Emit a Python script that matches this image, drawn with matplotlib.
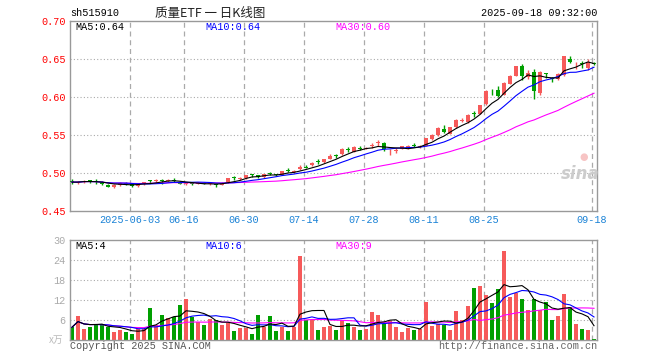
import numpy as np
import pandas as pd
import matplotlib
matplotlib.use("Agg")
import matplotlib.pyplot as plt

plt.rcParams["font.family"] = ["Liberation Mono", "Noto Sans CJK SC", "DejaVu Sans"]

# daily candles, 2025-05-19 .. 2025-09-18 (88 trading days)
opens = [0.489, 0.487, 0.488, 0.490, 0.490, 0.488, 0.484, 0.482, 0.484, 0.487,
         0.485, 0.483, 0.485, 0.490, 0.489, 0.491, 0.489, 0.491, 0.488, 0.485,
         0.486, 0.485, 0.487, 0.485, 0.486, 0.484, 0.488, 0.494, 0.492, 0.493,
         0.498, 0.497, 0.495, 0.500, 0.498, 0.498, 0.504, 0.501, 0.505, 0.508,
         0.510, 0.515, 0.514, 0.519, 0.523, 0.5246, 0.531, 0.528, 0.533, 0.532,
         0.535, 0.539, 0.540, 0.527, 0.529, 0.532, 0.533, 0.537, 0.534, 0.536,
         0.545, 0.550, 0.5583, 0.5518, 0.5605, 0.569, 0.567, 0.579, 0.578, 0.5908,
         0.607, 0.6096, 0.603, 0.6175, 0.628, 0.6412, 0.6263, 0.633, 0.605, 0.631,
         0.625, 0.6237, 0.6294, 0.650, 0.6415, 0.6435, 0.638, 0.6445]
closes = [0.488, 0.488, 0.490, 0.489, 0.488, 0.485, 0.482, 0.484, 0.487, 0.486,
          0.483, 0.484, 0.488, 0.489, 0.491, 0.489, 0.490, 0.490, 0.486, 0.486,
          0.485, 0.486, 0.486, 0.486, 0.484, 0.487, 0.493, 0.493, 0.494, 0.497,
          0.497, 0.495, 0.499, 0.499, 0.497, 0.502, 0.503, 0.503, 0.508, 0.507,
          0.513, 0.514, 0.518, 0.523, 0.522, 0.5316, 0.5305, 0.534, 0.532, 0.5325,
          0.536, 0.540, 0.531, 0.528, 0.530, 0.535, 0.536, 0.536, 0.535, 0.5456,
          0.5496, 0.5588, 0.554, 0.560, 0.570, 0.570, 0.5767, 0.578, 0.590, 0.6083,
          0.606, 0.6018, 0.6184, 0.628, 0.6404, 0.6272, 0.6316, 0.6075, 0.6325, 0.6305,
          0.624, 0.6307, 0.6544, 0.6456, 0.642, 0.643, 0.6456, 0.644]
highs = [0.492, 0.490, 0.491, 0.491, 0.492, 0.489, 0.485, 0.485, 0.488, 0.488,
         0.486, 0.485, 0.488, 0.491, 0.492, 0.492, 0.492, 0.493, 0.489, 0.487,
         0.487, 0.488, 0.488, 0.487, 0.486, 0.488, 0.494, 0.496, 0.495, 0.497,
         0.499, 0.498, 0.499, 0.501, 0.499, 0.502, 0.506, 0.504, 0.511, 0.510,
         0.514, 0.518, 0.518, 0.525, 0.525, 0.533, 0.534, 0.535, 0.535, 0.534,
         0.539, 0.544, 0.541, 0.531, 0.533, 0.535, 0.537, 0.539, 0.537, 0.546,
         0.551, 0.560, 0.563, 0.561, 0.571, 0.573, 0.577, 0.582, 0.590, 0.609,
         0.610, 0.614, 0.620, 0.629, 0.641, 0.644, 0.635, 0.637, 0.634, 0.632,
         0.626, 0.632, 0.6545, 0.6544, 0.646, 0.647, 0.650, 0.646]
lows = [0.486, 0.485, 0.487, 0.487, 0.486, 0.484, 0.481, 0.480, 0.483, 0.484,
        0.481, 0.482, 0.484, 0.487, 0.488, 0.486, 0.488, 0.488, 0.485, 0.484,
        0.484, 0.485, 0.485, 0.484, 0.482, 0.484, 0.487, 0.491, 0.491, 0.492,
        0.495, 0.494, 0.494, 0.497, 0.496, 0.497, 0.501, 0.500, 0.504, 0.506,
        0.509, 0.512, 0.513, 0.518, 0.520, 0.524, 0.528, 0.527, 0.530, 0.531,
        0.533, 0.535, 0.529, 0.524, 0.526, 0.531, 0.532, 0.534, 0.533, 0.535,
        0.544, 0.549, 0.553, 0.551, 0.559, 0.567, 0.566, 0.574, 0.577, 0.590,
        0.603, 0.600, 0.602, 0.617, 0.627, 0.622, 0.624, 0.597, 0.603, 0.625,
        0.620, 0.622, 0.628, 0.645, 0.637, 0.638, 0.636, 0.642]
volumes = [3.9, 7.3, 3.5, 4.1, 4.8, 4.5, 4.1, 2.6, 3.2, 2.5,
           1.9, 3.4, 3.5, 9.7, 4.6, 7.6, 6.6, 6.9, 10.6, 12.4,
           6.9, 5.5, 4.6, 6.4, 6.1, 4.6, 5.3, 2.8, 3.7, 3.7,
           1.9, 7.6, 3.9, 7.3, 2.8, 4.1, 2.8, 4.1, 25.2, 6.1,
           6.1, 3.1, 4.1, 4.3, 3.1, 6.1, 5.1, 4.0, 3.1, 3.4,
           8.6, 7.6, 4.8, 5.7, 4.0, 2.6, 3.8, 3.1, 3.4, 11.6,
           4.4, 4.8, 4.6, 3.2, 8.8, 6.1, 10.3, 15.7, 16.3, 13.6,
           11.3, 15.4, 26.7, 13.1, 14.2, 12.4, 9.1, 12.4, 9.1, 11.6,
           6.1, 7.3, 13.9, 10.0, 4.9, 3.4, 3.1, 0.4]

tick_index = [10, 19, 29, 39, 49, 59, 69, 87]
tick_labels = ["2025-06-03", "06-16", "06-30", "07-14", "07-28", "08-11", "08-25", "09-18"]

RED = "#f65a5a"
GREEN = "#009f00"
GRID = "#aaaaaa"
EDGE = "#999999"
BLUE_TXT = "#1a82d6"

o = np.array(opens)
c = np.array(closes)
h = np.array(highs)
l = np.array(lows)
v = np.array(volumes)
x = np.arange(len(c))
up = c >= o
colors = np.where(up, RED, GREEN)

price_ma = {n: pd.Series(c).rolling(n, min_periods=1).mean() for n in (5, 10, 30)}
vol_ma = {n: pd.Series(v).rolling(n, min_periods=1).mean() for n in (5, 10, 30)}
ma_colors = {5: "black", 10: "#0000ff", 30: "#ff00ff"}

W, H = 660, 360
fig = plt.figure(figsize=(6.6, 3.6), dpi=100)
ax = fig.add_axes([70 / W, 1 - 211 / H, 527 / W, 190 / H])
axv = fig.add_axes([70 / W, 1 - 340.3 / H, 527 / W, 100.3 / H])

grid_x = np.array(tick_index) - 0.33
for a in (ax, axv):
    a.set_xlim(-0.33, 87.5)
    for gx in grid_x:
        a.axvline(gx, color=GRID, linestyle=(0, (4, 3)), linewidth=0.9, zorder=0)
    for s in a.spines.values():
        s.set_color(EDGE)
        s.set_linewidth(1.0)
    a.tick_params(length=0, pad=3)
    a.set_xticks([])

# price panel
ax.set_ylim(0.45, 0.70)
for gy in (0.65, 0.60, 0.55, 0.50):
    ax.axhline(gy, color=GRID, linestyle=(0, (1, 2)), linewidth=0.8, zorder=0)
ax.vlines(x, l, h, colors=colors, linewidth=1.0, zorder=2)
body = np.maximum(np.abs(c - o), 0.0012)
ax.bar(x, body, bottom=np.minimum(o, c), width=0.7, color=colors, linewidth=0, zorder=3)
for n in (30, 10, 5):
    ax.plot(x, price_ma[n], color=ma_colors[n], linewidth=0.8, zorder=4)
ax.set_yticks([0.45, 0.50, 0.55, 0.60, 0.65, 0.70])
ax.set_yticklabels(["0.45", "0.50", "0.55", "0.60", "0.65", "0.70"], color="#ff0000", fontsize=7.3)
ax.set_xticks(grid_x)
ax.set_xticklabels(tick_labels, color=BLUE_TXT, fontsize=7.3)
ax.tick_params(axis="x", pad=3)

# volume panel
axv.set_ylim(0, 30)
for gy in (6, 12, 18, 24):
    axv.axhline(gy, color=GRID, linestyle=(0, (1, 2)), linewidth=0.8, zorder=0)
axv.bar(x, v, width=0.75, color=colors, linewidth=0, zorder=2)
for n in (30, 10, 5):
    axv.plot(x, vol_ma[n], color=ma_colors[n], linewidth=0.8, zorder=3)
axv.set_yticks([6, 12, 18, 24, 30])
axv.set_yticklabels(["6", "12", "18", "24", "30"], color="#aaaaaa", fontsize=7.3)

# texts
def px(xp, yp, s, **kw):
    fig.text(xp / W, 1 - yp / H, s, va="center", **kw)

px(70, 13, "sh515910", fontsize=7.3, color="black")
px(210, 13, "质量ETF 一 日K线图", fontsize=9, color="#222222", ha="center",
   family=["Noto Sans CJK SC", "DejaVu Sans"])
px(597, 13, "2025-09-18 09:32:00", fontsize=7.3, color="black", ha="right")
px(75, 27, "MA5:0.64", fontsize=7.3, color="black")
px(205, 27, "MA10:0.64", fontsize=7.3, color="#0000ff")
px(335, 27, "MA30:0.60", fontsize=7.3, color="#ff00ff")
px(75, 246, "MA5:4", fontsize=7.3, color="black")
px(205, 246, "MA10:6", fontsize=7.3, color="#0000ff")
px(335, 246, "MA30:9", fontsize=7.3, color="#ff00ff")
px(70, 346, "Copyright 2025 SINA.COM", fontsize=7.3, color="#555555")
px(597, 346, "http://finance.sina.com.cn", fontsize=7.3, color="#666666", ha="right")
px(49, 340, "x万", fontsize=7, color="#bbbbbb", family=["Noto Sans CJK SC", "DejaVu Sans"])
px(580, 174, "sina", fontsize=12, color="#cccccc", ha="center", style="italic",
   weight="bold", family=["DejaVu Sans"])
px(584, 157, "●", fontsize=7, color="#f7c4c4", ha="center", family=["DejaVu Sans"])

fig.savefig("out.png", dpi=100)
